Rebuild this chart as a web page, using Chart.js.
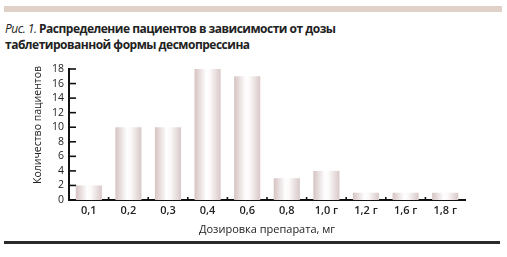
<!DOCTYPE html>
<html>
<head>
<meta charset="utf-8">
<script src="https://cdn.jsdelivr.net/npm/chart.js@4"></script>
<style>
  html, body { margin: 0; padding: 0; background: #fff; }
  #wrap { position: relative; width: 507px; height: 257px; overflow: hidden; }
  #band { position: absolute; left: 4px; top: 6px; width: 498px; height: 6px; background: #dfd0c8; }
  #title { position: absolute; left: 5px; top: 21px; font-family: "Open Sans", sans-serif; font-size: 12px; line-height: 16px; font-weight: bold; color: #222; letter-spacing: -0.5px; }
  #title i { font-weight: normal; }
  #rule { position: absolute; left: 4px; top: 241px; width: 496px; height: 3px; background: #2a2a2a; }
  canvas { position: absolute; left: 0; top: 0; }
</style>
</head>
<body>
<div id="wrap">
  <div id="band"></div>
  <div id="title"><i>Рис. 1.</i> Распределение пациентов в зависимости от дозы<br>таблетированной формы десмопрессина</div>
  <canvas id="barChart" width="507" height="257"></canvas>
  <div id="rule"></div>
</div>
<script>
const doses = ['0,1', '0,2', '0,3', '0,4', '0,6', '0,8', '1,0 г', '1,2 г', '1,6 г', '1,8 г'];
const patients = [2, 10, 10, 18, 17, 3, 4, 1, 1, 1];
const yTicks = [0, 2, 4, 6, 8, 10, 12, 14, 16, 18];

const BAR_SHARE = 0.66;

// cylinder-like shading across each bar
function barGradient(context) {
  const chart = context.chart;
  const xs = chart.scales.x;
  if (!xs || context.dataIndex === undefined) return '#eadede';
  const center = xs.getPixelForTick(context.dataIndex);
  const half = (xs.width / doses.length) * BAR_SHARE / 2;
  if (!isFinite(center) || !isFinite(half) || half <= 0) return '#eadede';
  const g = chart.ctx.createLinearGradient(center - half, 0, center + half, 0);
  g.addColorStop(0, '#d6c3c3');
  g.addColorStop(0.45, '#ffffff');
  g.addColorStop(0.6, '#fbf8f8');
  g.addColorStop(1, '#d9c8c8');
  return g;
}

// short inward ticks on the y axis, small marks at category edges on the x axis
const axisMarks = {
  id: 'axisMarks',
  afterDraw(chart) {
    const ctx = chart.ctx;
    const y = chart.scales.y;
    const x = chart.scales.x;
    const area = chart.chartArea;
    ctx.save();
    ctx.strokeStyle = '#111';
    ctx.lineWidth = 1.6;
    yTicks.forEach(v => {
      const py = y.getPixelForValue(v);
      ctx.beginPath();
      ctx.moveTo(area.left, py);
      ctx.lineTo(area.left + 7, py);
      ctx.stroke();
    });
    const base = y.getPixelForValue(0);
    const step = x.width / doses.length;
    for (let i = 1; i < doses.length; i++) {
      const px = area.left + step * i;
      ctx.beginPath();
      ctx.moveTo(px, base);
      ctx.lineTo(px, base - 3);
      ctx.stroke();
    }
    ctx.restore();
  }
};

new Chart(document.getElementById('barChart'), {
  type: 'bar',
  data: {
    labels: doses,
    datasets: [{
      data: patients,
      backgroundColor: barGradient,
      borderWidth: 0,
      barPercentage: BAR_SHARE,
      categoryPercentage: 1
    }]
  },
  plugins: [axisMarks],
  options: {
    responsive: false,
    animation: false,
    layout: { padding: { top: 69, right: 42, bottom: 17, left: 28 } },
    plugins: { legend: { display: false }, tooltip: { enabled: false } },
    scales: {
      x: {
        grid: { display: false, drawTicks: false },
        border: { color: '#111', width: 2 },
        ticks: { color: '#222', font: { family: 'Open Sans', size: 11, weight: '600' }, padding: 4 },
        title: { display: true, text: 'Дозировка препарата, мг', color: '#222', font: { family: 'Open Sans', size: 11 }, padding: { top: 6 } },
        afterFit: s => { s.height = 40; }
      },
      y: {
        min: 0,
        max: 18,
        grid: { display: false, drawTicks: false },
        border: { color: '#111', width: 2 },
        ticks: { stepSize: 2, autoSkip: false, color: '#222', font: { family: 'Open Sans', size: 10.5 }, padding: 5 },
        title: { display: true, text: '\u00a0\u00a0\u00a0\u00a0\u00a0\u00a0\u00a0Количество пациентов', color: '#222', font: { family: 'Open Sans', size: 10.5 } },
        afterFit: s => { s.width = 41; }
      }
    }
  }
});
</script>
</body>
</html>
